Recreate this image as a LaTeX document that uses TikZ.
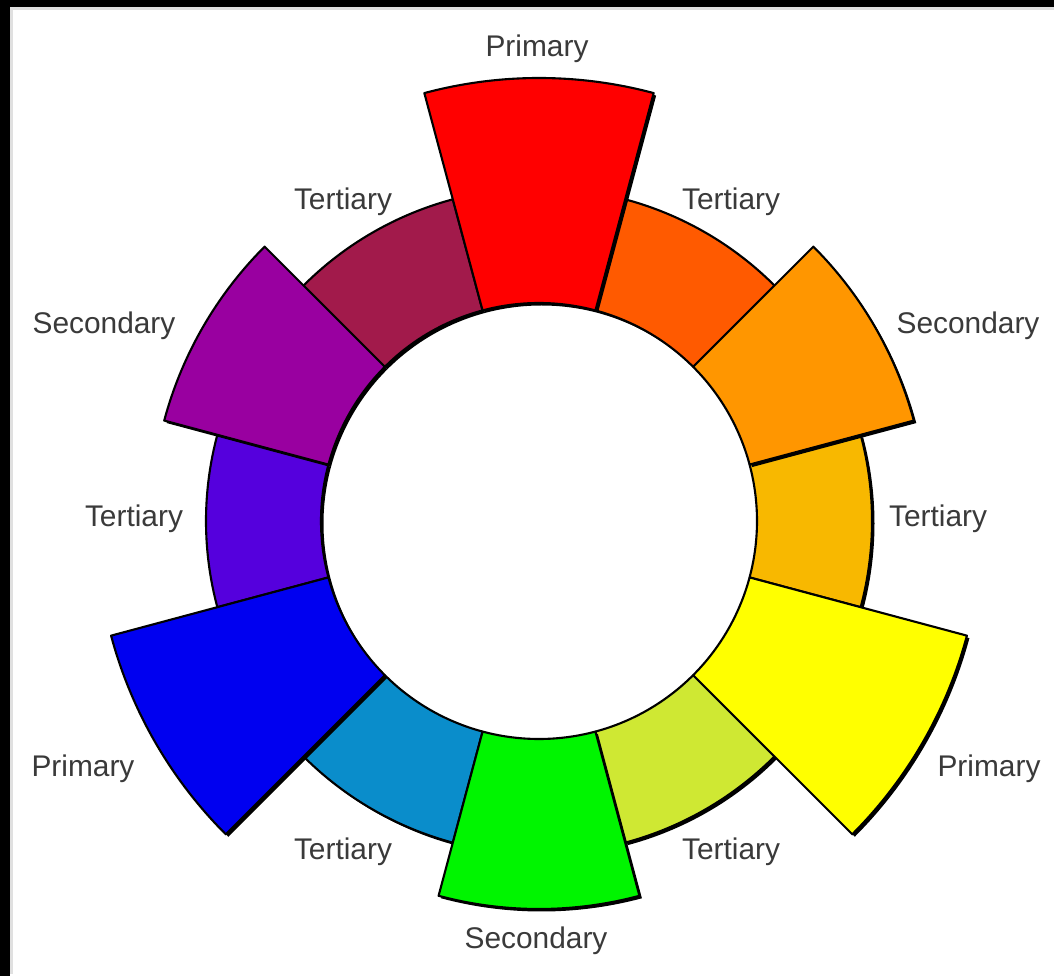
\documentclass[tikz,border=0pt]{standalone}
\usepackage{fontspec}
\setmainfont{Liberation Sans}
\usepackage{xcolor}
\usepackage{tikz}

\definecolor{wheelRed}{HTML}{FF0000}
\definecolor{wheelRedOrange}{HTML}{FF5A00}
\definecolor{wheelOrange}{HTML}{FF9600}
\definecolor{wheelYellowOrange}{HTML}{F8B800}
\definecolor{wheelYellow}{HTML}{FFFF00}
\definecolor{wheelYellowGreen}{HTML}{CFE833}
\definecolor{wheelGreen}{HTML}{00F500}
\definecolor{wheelBlueGreen}{HTML}{0A8DCB}
\definecolor{wheelBlue}{HTML}{0000F0}
\definecolor{wheelBlueViolet}{HTML}{5500DD}
\definecolor{wheelViolet}{HTML}{9900A0}
\definecolor{wheelRedViolet}{HTML}{A21A4B}
\definecolor{labelGray}{HTML}{3A3A3A}

\begin{document}
\begin{tikzpicture}[
  sector/.style={draw=black, line width=1.2pt, line join=round},
  shade/.style={fill=black, shift={(0.05,-0.05)}},
  lbl/.style={font=\fontsize{17}{20}\selectfont, text=labelGray, inner sep=0pt}]
\useasboundingbox (-10.78,-9.10) rectangle (10.30,10.42);
\fill[white] (-10.78,-9.10) rectangle (10.30,10.42);
% frame
\fill[black] (-10.78,10.28) rectangle (10.30,10.42);
\fill[black] (-10.78,-9.10) rectangle (-10.58,10.42);
\draw[black!12, line width=1.5pt] (-10.55,-9.06) -- (-10.55,10.25) -- (10.30,10.25);
% wheel: centre angle / outer radius / colour
\foreach \a/\r/\c in {60/6.66/wheelRedOrange, 0/6.66/wheelYellowOrange, -60/6.66/wheelYellowGreen,
    -120/6.66/wheelBlueGreen, 180/6.66/wheelBlueViolet, 120/6.66/wheelRedViolet,
    30/7.76/wheelOrange, -90/7.76/wheelGreen, 150/7.76/wheelViolet,
    90/8.86/wheelRed, -30/8.86/wheelYellow, -150/8.86/wheelBlue} {
  \fill[shade] ({\a-15}:4.36) arc[start angle=\a-15, end angle=\a+15, radius=4.36]
    -- ({\a+15}:\r) arc[start angle=\a+15, end angle=\a-15, radius=\r] -- cycle;
  \draw[sector, fill=\c] ({\a-15}:4.36) arc[start angle=\a-15, end angle=\a+15, radius=4.36]
    -- ({\a+15}:\r) arc[start angle=\a+15, end angle=\a-15, radius=\r] -- cycle;
}
% labels
\node[lbl] (p1) at (-0.04,9.44)  {Primary};
\node[lbl] (p2) at (9.00,-4.96)  {Primary};
\node[lbl] (p3) at (-9.12,-4.96) {Primary};
\node[lbl] (s1) at (8.58,3.90)   {Secondary};
\node[lbl] (s2) at (-0.06,-8.40) {Secondary};
\node[lbl] (s3) at (-8.70,3.90)  {Secondary};
\node[lbl] (t1) at (3.84,6.38)   {Tertiary};
\node[lbl] (t2) at (7.98,0.04)   {Tertiary};
\node[lbl] (t3) at (3.84,-6.62)  {Tertiary};
\node[lbl] (t4) at (-3.92,-6.62) {Tertiary};
\node[lbl] (t5) at (-8.10,0.04)  {Tertiary};
\node[lbl] (t6) at (-3.92,6.38)  {Tertiary};
\end{tikzpicture}
\end{document}
